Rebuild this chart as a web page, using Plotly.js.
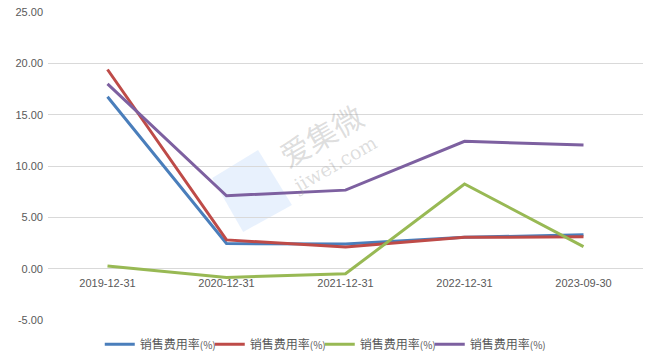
<!DOCTYPE html>
<html>
<head>
<meta charset="utf-8">
<script src="https://cdn.plot.ly/plotly-3.0.1.min.js"></script>
<style>html,body{margin:0;padding:0;background:#fff;}#chart{width:650px;height:364px;}</style>
</head>
<body>
<div id="chart"></div>
<script>
const categories = ["2019-12-31", "2020-12-31", "2021-12-31", "2022-12-31", "2023-09-30"];
const seriesBlue = [16.75, 2.45, 2.4, 3.05, 3.3];
const seriesRed = [19.4, 2.8, 2.1, 3.05, 3.1];
const seriesGreen = [0.26, -0.85, -0.5, 8.25, 2.15];
const seriesPurple = [18.0, 7.1, 7.65, 12.4, 12.05];
const seriesName = "销售费用率<span style='font-size:10px'>(%)</span>";
const yTicks = [-5, 0, 5, 10, 15, 20, 25];
const yTickLabels = ["-5.00", "0.00", "5.00", "10.00", "15.00", "20.00", "25.00"];

const colors = ["#4a7ebb", "#be4b48", "#98b954", "#7d60a0"];
const all = [seriesBlue, seriesRed, seriesGreen, seriesPurple];
const traces = all.map((vals, i) => ({
  x: categories,
  y: vals,
  type: "scatter",
  mode: "lines",
  name: seriesName,
  line: {color: colors[i], width: 3},
  hoverinfo: "skip"
}));
// blank spacer entry so the last legend label is not clipped
traces.push({x: [categories[0]], y: [null], type: "scatter", mode: "lines", name: " ",
  line: {color: "rgba(0,0,0,0)", width: 0}, hoverinfo: "skip", showlegend: true});

const layout = {
  width: 650, height: 364,
  margin: {l: 48, r: 7, t: 12, b: 44, autoexpand: false},
  paper_bgcolor: "#ffffff",
  plot_bgcolor: "#ffffff",
  showlegend: true,
  font: {family: "'Noto Sans CJK SC', 'DejaVu Sans', sans-serif", color: "#595959", size: 11},
  xaxis: {
    type: "category",
    range: [-0.5, 4.5],
    showgrid: false,
    zeroline: false,
    showline: false,
    ticks: "",
    anchor: "free",
    position: 52 / 308,
    ticklabelstandoff: 7,
    tickfont: {family: "'Liberation Sans', 'DejaVu Sans', sans-serif", size: 11, color: "#595959"}
  },
  yaxis: {
    range: [-5, 25],
    tickvals: yTicks,
    ticktext: yTickLabels,
    showgrid: true,
    gridcolor: "#d9d9d9",
    gridwidth: 1,
    zeroline: false,
    showline: false,
    ticks: "",
    ticklabelstandoff: 4,
    tickfont: {family: "'Liberation Sans', 'DejaVu Sans', sans-serif", size: 11, color: "#595959"}
  },
  legend: {
    orientation: "h",
    x: 0.087, xanchor: "left",
    y: -0.032, yanchor: "top",
    font: {family: "'Noto Sans CJK SC', sans-serif", size: 12, color: "#595959"},
    itemwidth: 30,
    entrywidth: 65,
    entrywidthmode: "pixels",
    tracegroupgap: 0,
    bgcolor: "rgba(0,0,0,0)"
  },
  shapes: [{
    type: "path", xref: "paper", yref: "paper",
    path: "M 0.276 0.461 L 0.353 0.552 L 0.410 0.373 L 0.328 0.286 Z",
    fillcolor: "rgba(110,165,240,0.16)", line: {width: 0}, layer: "below"
  }],
  annotations: [
    {text: "爱集微", xref: "paper", yref: "paper", x: 0.458, y: 0.60, showarrow: false,
     textangle: -30, font: {family: "'Noto Sans CJK SC', serif", size: 30, color: "rgba(150,150,150,0.32)"}},
    {text: "jiwei.com", xref: "paper", yref: "paper", x: 0.482, y: 0.505, showarrow: false,
     textangle: -30, font: {family: "'DejaVu Serif', serif", size: 19, color: "rgba(150,150,150,0.32)"}}
  ]
};

Plotly.newPlot("chart", traces, layout, {displayModeBar: false, staticPlot: true});
</script>
</body>
</html>
